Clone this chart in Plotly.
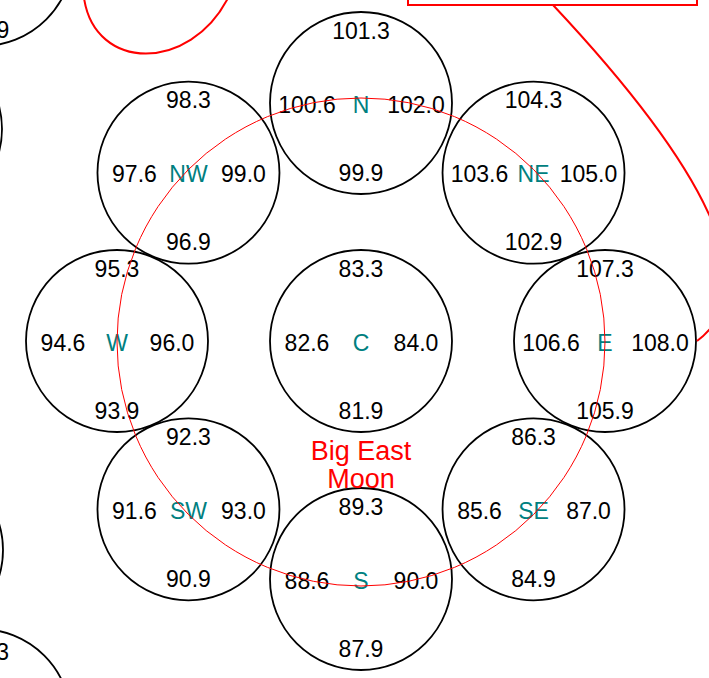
import math
import plotly.graph_objects as go

# ---- data ----
directions = ["C", "N", "NE", "E", "SE", "S", "SW", "W", "NW"]
top_vals = [83.3, 101.3, 104.3, 107.3, 86.3, 89.3, 92.3, 95.3, 98.3]
left_vals = [82.6, 100.6, 103.6, 106.6, 85.6, 88.6, 91.6, 94.6, 97.6]
right_vals = [84.0, 102.0, 105.0, 108.0, 87.0, 90.0, 93.0, 96.0, 99.0]
bottom_vals = [81.9, 99.9, 102.9, 105.9, 84.9, 87.9, 90.9, 93.9, 96.9]
title_lines = ["Big East", "Moon"]
# partially visible neighbouring cells (only the last digit shows)
neighbor_texts = ["96.9", "110.3"]

# ---- layout geometry (pixel-like data units) ----
W, H = 709, 678
CX, CY = 361, 341
RX, RY = 244, 238
CELL_R = 91
angles = {"C": None, "N": 90, "NE": 45, "E": 0, "SE": -45, "S": -90,
          "SW": -135, "W": 180, "NW": 135}


def center(d):
    a = angles[d]
    if a is None:
        return CX, CY
    r = math.radians(a)
    return CX + RX * math.cos(r), CY - RY * math.sin(r)


shapes = []
xs, ys, ts = [], [], []
lx, ly, lt = [], [], []
for d, tv, lv, rv, bv in zip(directions, top_vals, left_vals, right_vals, bottom_vals):
    x, y = center(d)
    shapes.append(dict(type="circle", xref="x", yref="y",
                       x0=x - CELL_R, x1=x + CELL_R, y0=y - CELL_R, y1=y + CELL_R,
                       line=dict(color="black", width=1.8), layer="below"))
    for dx, dy, v in [(0, -70, tv), (-54, 4, lv), (55, 4, rv), (0, 72, bv)]:
        xs.append(x + dx)
        ys.append(y + dy)
        ts.append(f"{v:.1f}")
    lx.append(x)
    ly.append(y + 4)
    lt.append(d)

# neighbouring cells, mostly outside the view
neighbors = [(-18, -45), (-89, 129), (-88, 550), (-20, 720)]
for (x, y) in neighbors:
    shapes.append(dict(type="circle", xref="x", yref="y",
                       x0=x - CELL_R, x1=x + CELL_R, y0=y - CELL_R, y1=y + CELL_R,
                       line=dict(color="black", width=1.8), layer="below"))
nx = [neighbors[0][0] + 5, neighbors[3][0] + 1]
ny = [neighbors[0][1] + 77, neighbors[3][1] - 66]

# thin red ring through the outer cells
shapes.append(dict(type="circle", xref="x", yref="y",
                   x0=CX - 244, x1=CX + 244, y0=CY + 1 - 244, y1=CY + 1 + 244,
                   line=dict(color="red", width=1), layer="above"))
# red annotation box (top) and its curved connector
shapes.append(dict(type="rect", xref="x", yref="y", x0=408, x1=697, y0=-40, y1=5,
                   line=dict(color="red", width=2)))
shapes.append(dict(type="path", xref="x", yref="y",
                   path="M 553,5 C 703,165 769,287 697,341",
                   line=dict(color="red", width=2)))
shapes.append(dict(type="path", xref="x", yref="y",
                   path="M 84,-2 C 95,72 190,72 228,-2",
                   line=dict(color="red", width=2)))

FONT = "Liberation Sans"
fig = go.Figure()
fig.add_trace(go.Scatter(x=xs, y=ys, text=ts, mode="text", textposition="middle center",
                         textfont=dict(family=FONT, size=23, color="black"),
                         hoverinfo="skip", showlegend=False, cliponaxis=True))
fig.add_trace(go.Scatter(x=nx, y=ny, text=neighbor_texts, mode="text",
                         textposition="middle center",
                         textfont=dict(family=FONT, size=23, color="black"),
                         hoverinfo="skip", showlegend=False, cliponaxis=True))
fig.add_trace(go.Scatter(x=lx, y=ly, text=lt, mode="text", textposition="middle center",
                         textfont=dict(family=FONT, size=23, color="#008080"),
                         hoverinfo="skip", showlegend=False))
fig.add_trace(go.Scatter(x=[CX, CX], y=[453, 481], text=title_lines, mode="text",
                         textposition="middle center",
                         textfont=dict(family=FONT, size=27, color="red"),
                         hoverinfo="skip", showlegend=False))

fig.update_layout(width=W, height=H, margin=dict(l=0, r=0, t=0, b=0),
                  paper_bgcolor="white", plot_bgcolor="white",
                  shapes=shapes, showlegend=False)
fig.update_xaxes(range=[0, W], visible=False, fixedrange=True)
fig.update_yaxes(range=[H, 0], visible=False, fixedrange=True)
fig.write_html("out.html", config={"displayModeBar": False},
               post_script="document.body.style.margin='0';"
                           "document.body.style.overflow='hidden';")
